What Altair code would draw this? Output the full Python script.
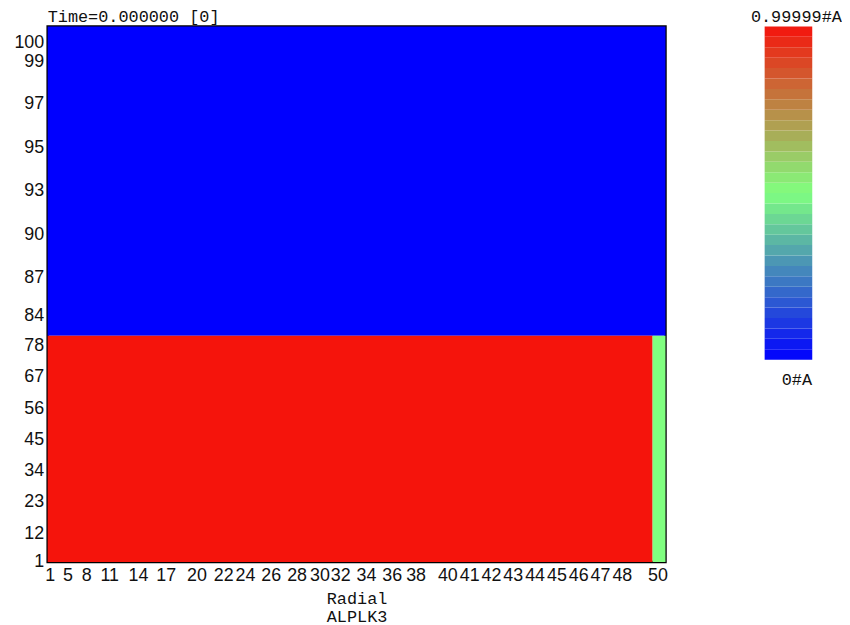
import altair as alt
import pandas as pd
import numpy as np

# Radial mesh labels (cell index) and their radial positions (plot units)
x_tick_idx = [1, 5, 8, 11, 14, 17, 20, 22, 24, 26, 28, 30, 32, 34, 36, 38,
              40, 41, 42, 43, 44, 45, 46, 47, 48, 50]
x_tick_pos = [2, 20, 39, 62, 91, 119, 150, 177, 199, 225, 251, 274, 295, 321, 347, 371,
              403, 425, 447, 469, 491, 513, 535, 557, 579, 615]
x_max = 623

# Axial mesh labels (cell index) and their axial positions (plot units)
y_tick_idx = [1, 12, 23, 34, 45, 56, 67, 78, 84, 87, 90, 93, 95, 97, 99, 100]
y_tick_pos = [0, 29, 61, 92, 123, 155, 187, 218, 248, 287, 330, 375, 418, 462, 505, 524]
y_max = 540

# Uniform-value regions of ALPLK3 at Time=0
reg_r0 = [0, 0, 610]
reg_r1 = [623, 610, 623]
reg_z0 = [228, 0, 0]
reg_z1 = [540, 228, 228]
reg_val = [0.0, 0.99999, 0.5]

vmin, vmax = 0.0, 0.99999
n_levels = 32

cmap_domain = [0.0, 0.5, 0.99999]
cmap_range = ["#0000ff", "#80ff80", "#f5140c"]

df = pd.DataFrame({"r0": reg_r0, "r1": reg_r1, "z0": reg_z0, "z1": reg_z1, "val": reg_val})

edges = np.linspace(vmin, vmax, n_levels + 1)
cb = pd.DataFrame({"lo": edges[:-1], "hi": edges[1:], "mid": (edges[:-1] + edges[1:]) / 2, "k": ["c"] * n_levels})

color_scale = alt.Scale(domain=cmap_domain, range=cmap_range, interpolate="rgb")

label_font = "Liberation Sans"
mono_font = "Liberation Mono"

x_expr = f"{x_tick_idx}[indexof({x_tick_pos}, datum.value)]"
y_expr = f"{y_tick_idx}[indexof({y_tick_pos}, datum.value)]"

main = alt.Chart(df).mark_rect(stroke=None).encode(
    x=alt.X("r0:Q",
            scale=alt.Scale(domain=[0, x_max], nice=False, zero=False),
            axis=alt.Axis(values=x_tick_pos, labelExpr=x_expr, grid=False, domain=False,
                          ticks=False, tickSize=0, labelPadding=5, labelOverlap=False,
                          labelFont=label_font, labelFontSize=18, labelColor="#111",
                          labelFlush=False,
                          title=["Radial", "ALPLK3"], titleFont=mono_font, titleFontSize=17,
                          titleFontWeight="normal", titleColor="#111", titlePadding=6,
                          titleLineHeight=18)),
    x2="r1:Q",
    y=alt.Y("z0:Q",
            scale=alt.Scale(domain=[0, y_max], nice=False, zero=False),
            axis=alt.Axis(values=y_tick_pos, labelExpr=y_expr, grid=False, domain=False,
                          ticks=False, tickSize=0, labelPadding=4, labelOverlap=False,
                          labelFont=label_font, labelFontSize=18, labelColor="#111",
                          labelFlush=False, title=None, minExtent=38, maxExtent=38)),
    y2="z1:Q",
    color=alt.Color("val:Q", scale=color_scale, legend=None),
).properties(
    width=623, height=540,
    title=alt.TitleParams("Time=0.000000 [0]", anchor="start", frame="group", font=mono_font,
                          fontSize=17, fontWeight="normal", color="#111", offset=0),
    view=alt.ViewBackground(stroke="black", strokeWidth=2.5),
)

bar = alt.Chart(cb).mark_rect(stroke=None).encode(
    x=alt.X("k:N", scale=alt.Scale(paddingInner=0, paddingOuter=0),
            axis=alt.Axis(labels=False, ticks=False, domain=False, title="0#A",
                          titleFont=mono_font, titleFontSize=17, titleFontWeight="normal",
                          titleColor="#111", titlePadding=12, titleX=32)),
    y=alt.Y("lo:Q", scale=alt.Scale(domain=[vmin, vmax], nice=False, zero=False), axis=None),
    y2="hi:Q",
    color=alt.Color("mid:Q", scale=color_scale, legend=None),
).properties(
    width=48, height=336,
    title=alt.TitleParams("0.99999#A", anchor="middle", font=mono_font, fontSize=17,
                          fontWeight="normal", color="#111", offset=0, dx=8),
    view=alt.ViewBackground(stroke=None),
)

chart = alt.hconcat(main, bar, spacing=82).properties(
    padding={"left": 0, "top": -4, "right": 0, "bottom": 0},
    background="white",
).configure_view(stroke=None)

chart.save("out.html", embed_options={"renderer": "svg", "actions": False})
